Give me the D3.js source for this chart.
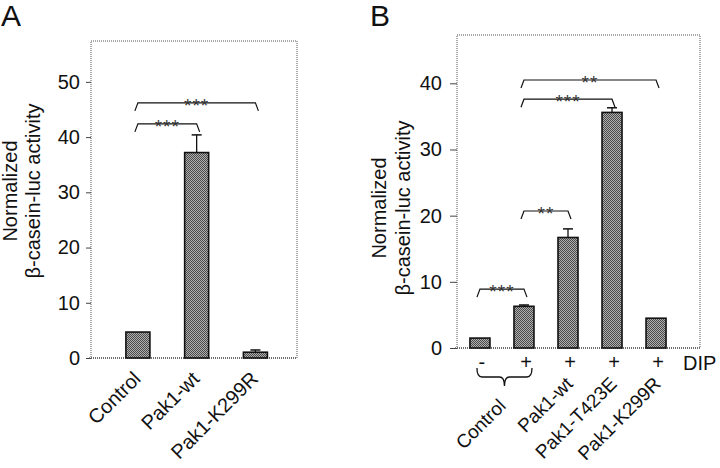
<!DOCTYPE html>
<html><head><meta charset="utf-8">
<script src="https://cdn.jsdelivr.net/npm/d3@7"></script>
<style>
html,body{margin:0;padding:0;background:#fff;}
svg{display:block;font-family:"Liberation Sans",Arial,Helvetica,sans-serif;}
</style></head>
<body>
<svg id="chart" width="720" height="468"></svg>
<script>
// ---------- Panel A data ----------
const catsA = ["Control", "Pak1-wt", "Pak1-K299R"];
const valsA = [4.7, 37.2, 1.05];
const errA = [0, 3.2, 0.4];
const ticksA = [0, 10, 20, 30, 40, 50];
const sigFromA = [0, 0];
const sigToA = [1, 2];
const sigYA = [42.4, 46.2];
const sigLabelA = ["***", "***"];

// ---------- Panel B data ----------
const barsB = ["ctrl-", "ctrl+", "wt", "T423E", "K299R"];
const valsB = [1.5, 6.3, 16.7, 35.6, 4.5];
const errB = [0, 0.2, 1.3, 0.7, 0];
const dipB = ["-", "+", "+", "+", "+"];
const groupNamesB = ["Control", "Pak1-wt", "Pak1-T423E", "Pak1-K299R"];
const groupBarsB = [[0, 1], [2], [3], [4]];
const ticksB = [0, 10, 20, 30, 40];
const sigFromB = [0, 1, 1, 1];
const sigToB = [1, 2, 3, 4];
const sigYB = [8.9, 20.7, 37.6, 40.5];
const sigLabelB = ["***", "**", "***", "**"];

const yLabel1 = "Normalized";
const yLabel2 = "β-casein-luc activity";

const svg = d3.select("#chart");
const defs = svg.append("defs");
const pat = defs.append("pattern").attr("id", "hatch")
  .attr("width", 2).attr("height", 2).attr("patternUnits", "userSpaceOnUse");
pat.append("rect").attr("width", 2).attr("height", 2).attr("fill", "#b0b0b0");
pat.append("rect").attr("x", 0).attr("y", 0).attr("width", 1).attr("height", 1).attr("fill", "#4a4a4a");
pat.append("rect").attr("x", 1).attr("y", 1).attr("width", 1).attr("height", 1).attr("fill", "#4a4a4a");

function panel(cfg) {
  const g = svg.append("g");
  const {left, right, top, bottom} = cfg.frame;
  const y = d3.scaleLinear().domain([0, cfg.yMax]).range([bottom, top]);
  const x = d3.scalePoint().domain(cfg.keys).range([left, right])
    .padding(cfg.pad).align(cfg.align);

  // frame
  g.append("rect").attr("x", left).attr("y", top)
    .attr("width", right - left).attr("height", bottom - top)
    .attr("fill", "none").attr("stroke", "#555").attr("stroke-width", 1)
    .attr("stroke-dasharray", "1,1");
  g.append("line").attr("x1", left - 2).attr("x2", right).attr("y1", bottom).attr("y2", bottom)
    .attr("stroke", "#333").attr("stroke-width", 1.2).attr("stroke-dasharray", "1,1");

  // y axis
  const ax = d3.axisLeft(y).tickValues(cfg.ticks).tickSize(cfg.tickLen).tickPadding(cfg.tickPad)
    .tickFormat(d3.format("d"));
  const axg = g.append("g").attr("transform", `translate(${left},0)`).call(ax);
  axg.select(".domain").remove();
  axg.selectAll(".tick line").attr("stroke", "#444").attr("stroke-width", 1);
  axg.selectAll(".tick text").attr("font-size", 20).attr("fill", "#111")
    .attr("font-family", "Liberation Sans, Arial, sans-serif");

  // bars
  const bw = cfg.barW;
  g.selectAll("rect.bar").data(cfg.vals).join("rect").attr("class", "bar")
    .attr("x", (d, i) => x(cfg.keys[i]) - bw / 2)
    .attr("y", d => y(d))
    .attr("width", bw)
    .attr("height", d => y(0) - y(d))
    .attr("fill", "url(#hatch)").attr("stroke", "#111").attr("stroke-width", 1.6);

  // error bars
  cfg.errs.forEach((e, i) => {
    if (e <= 0) return;
    const cx = x(cfg.keys[i]);
    g.append("line").attr("x1", cx).attr("x2", cx).attr("y1", y(cfg.vals[i])).attr("y2", y(cfg.vals[i] + e))
      .attr("stroke", "#111").attr("stroke-width", 1.3);
    g.append("line").attr("x1", cx - 5).attr("x2", cx + 5).attr("y1", y(cfg.vals[i] + e)).attr("y2", y(cfg.vals[i] + e))
      .attr("stroke", "#111").attr("stroke-width", 1.5);
  });

  // significance brackets
  cfg.sigFrom.forEach((f, i) => {
    const x1 = x(cfg.keys[f]), x2 = x(cfg.keys[cfg.sigTo[i]]), yy = y(cfg.sigY[i]);
    g.append("path")
      .attr("d", `M${x1 - 3},${yy + 8} L${x1},${yy} L${x2},${yy} L${x2 + 3},${yy + 8}`)
      .attr("fill", "none").attr("stroke", "#111").attr("stroke-width", 1.2);
    g.append("text").attr("x", (x1 + x2) / 2).attr("y", yy + 9)
      .attr("text-anchor", "middle").attr("font-size", 19).attr("fill", "#333")
      .attr("letter-spacing", 1)
      .text(cfg.sigLabel[i]);
  });

  // y label
  const lg = g.append("g").attr("transform", `translate(0,${cfg.labelCY}) rotate(-90)`);
  lg.append("text").attr("x", 0).attr("y", cfg.labelX1).attr("text-anchor", "middle")
    .attr("font-size", 20).attr("fill", "#111").text(yLabel1);
  lg.append("text").attr("x", 0).attr("y", cfg.labelX2).attr("text-anchor", "middle")
    .attr("font-size", 20).attr("fill", "#111").text(yLabel2);

  // panel letter
  g.append("text").attr("x", cfg.letterX).attr("y", 26).attr("font-size", 30)
    .attr("fill", "#111").text(cfg.letter);

  return {g, x, y};
}

// ---- Panel A ----
const A = panel({
  frame: {left: 91, right: 297, top: 41, bottom: 358},
  yMax: 57.4, keys: catsA, vals: valsA, errs: errA, ticks: ticksA,
  pad: 0.753, align: 0.53, barW: 24, tickLen: 5, tickPad: 6,
  sigFrom: sigFromA, sigTo: sigToA, sigY: sigYA, sigLabel: sigLabelA,
  labelCY: 191, labelX1: 17, labelX2: 40, letter: "A", letterX: 1
});
A.g.selectAll("text.cat").data(catsA).join("text").attr("class", "cat")
  .attr("transform", d => `translate(${A.x(d) + 4},${358 + 22}) rotate(-45)`)
  .attr("text-anchor", "end").attr("font-size", 20).attr("fill", "#111").text(d => d);

// ---- Panel B ----
const B = panel({
  frame: {left: 457, right: 700, top: 35, bottom: 348},
  yMax: 47.3, keys: barsB, vals: valsB, errs: errB, ticks: ticksB,
  pad: 0.76, align: 0.343, barW: 20, tickLen: 7, tickPad: 8,
  sigFrom: sigFromB, sigTo: sigToB, sigY: sigYB, sigLabel: sigLabelB,
  labelCY: 208, labelX1: 386, labelX2: 410, letter: "B", letterX: 370
});
// DIP signs
B.g.selectAll("text.dip").data(dipB).join("text").attr("class", "dip")
  .attr("x", (d, i) => B.x(barsB[i]) + 2).attr("y", 369)
  .attr("text-anchor", "middle").attr("font-size", 20).attr("fill", "#111").text(d => d);
B.g.append("text").attr("x", 683).attr("y", 370).attr("font-size", 20).attr("fill", "#111").text("DIP");
// brace under Control
{
  const x1 = B.x(barsB[0]) - 3, x2 = B.x(barsB[1]) + 8, xc = (x1 + x2) / 2;
  const y0 = 368, y1 = 377, y2 = 386, r = 5;
  B.g.append("path")
    .attr("d", `M${x1},${y0} Q${x1},${y1} ${x1 + r},${y1} L${xc - r},${y1} Q${xc},${y1} ${xc},${y2} Q${xc},${y1} ${xc + r},${y1} L${x2 - r},${y1} Q${x2},${y1} ${x2},${y0}`)
    .attr("fill", "none").attr("stroke", "#111").attr("stroke-width", 1.3);
}
// group labels
groupNamesB.forEach((name, i) => {
  const idx = groupBarsB[i];
  const cx = d3.mean(idx, k => B.x(barsB[k]));
  const dx = idx.length > 1 ? 5 : 6;
  const dy = idx.length > 1 ? 59 : 37;
  B.g.append("text")
    .attr("transform", `translate(${cx + dx},${348 + dy}) rotate(-45)`)
    .attr("text-anchor", "end").attr("font-size", 19).attr("fill", "#111").text(name);
});
</script>
</body></html>
